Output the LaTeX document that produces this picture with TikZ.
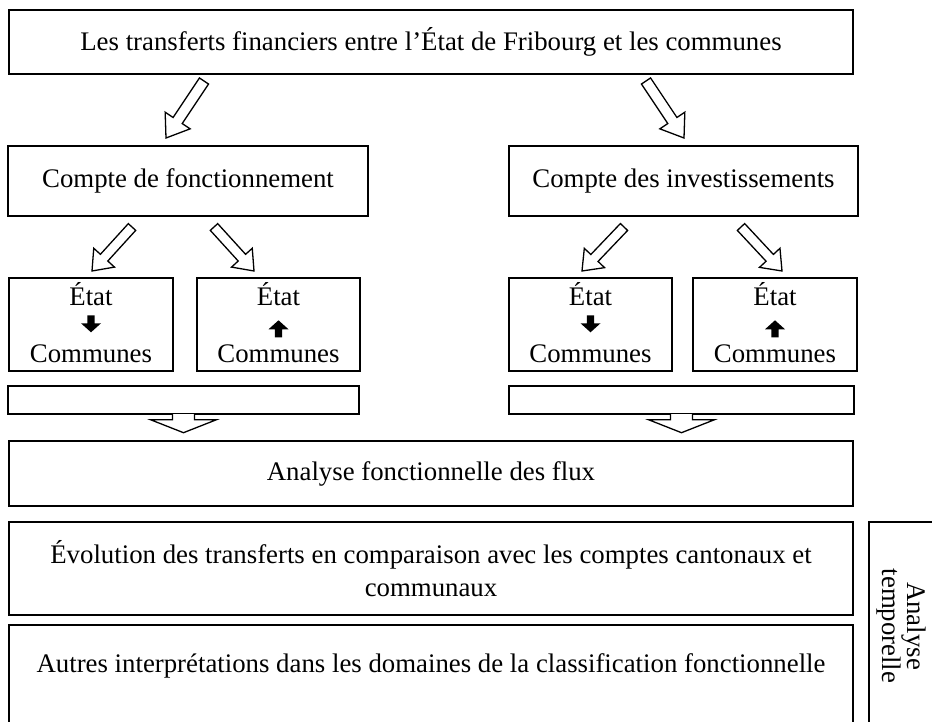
\documentclass[tikz,border=0pt]{standalone}
\usepackage{fontspec}
\setmainfont{Liberation Serif}
\usetikzlibrary{calc}
\tikzset{
  box/.style={draw, line width=1.4pt, inner sep=0pt, align=center, font=\fontsize{26.8}{32.5}\selectfont},
  lbl/.style={inner sep=0pt, font=\fontsize{26.8}{32.5}\selectfont},
  hollow/.style={draw, fill=white, line width=1.3pt, line join=miter},
  solid/.style={fill=black, draw=none}
}
\newcommand\hollowarrow[5]{%
  \coordinate (ha-b) at ($(#2)!#5!(#1)$);
  \filldraw[hollow] ($(#1)!#3!90:(#2)$) -- ($(ha-b)!#3!90:(#2)$) -- ($(ha-b)!#4!90:(#2)$) -- (#2)
    -- ($(ha-b)!#4!-90:(#2)$) -- ($(ha-b)!#3!-90:(#2)$) -- ($(#1)!#3!-90:(#2)$) -- cycle;}
\newcommand\openarrow[5]{%
  \coordinate (ha-b) at ($(#2)!#5!(#1)$);
  \fill[white] ($(#1)!#3!90:(#2)$) -- ($(ha-b)!#3!90:(#2)$) -- ($(ha-b)!#4!90:(#2)$) -- (#2)
    -- ($(ha-b)!#4!-90:(#2)$) -- ($(ha-b)!#3!-90:(#2)$) -- ($(#1)!#3!-90:(#2)$) -- cycle;
  \draw[line width=1.3pt, line join=miter] ($(#1)!#3!90:(#2)$) -- ($(ha-b)!#3!90:(#2)$) -- ($(ha-b)!#4!90:(#2)$) -- (#2)
    -- ($(ha-b)!#4!-90:(#2)$) -- ($(ha-b)!#3!-90:(#2)$) -- ($(#1)!#3!-90:(#2)$);}
\newcommand\solidarrow[2]{%
  \coordinate (sa-b) at ($(#2)!9pt!(#1)$);
  \fill[solid] ($(#1)!3.6pt!90:(#2)$) -- ($(sa-b)!3.6pt!90:(#2)$) -- ($(sa-b)!10pt!90:(#2)$) -- (#2)
    -- ($(sa-b)!10pt!-90:(#2)$) -- ($(sa-b)!3.6pt!-90:(#2)$) -- ($(#1)!3.6pt!-90:(#2)$) -- cycle;}
\begin{document}
\begin{tikzpicture}[x=1pt,y=-1pt]
\useasboundingbox (0,0) rectangle (932,722);
\clip (0,0) rectangle (932,722);
% boxes
\node[box, minimum width=844pt, minimum height=64pt] (top) at (431,42) {Les transferts financiers entre l’État de Fribourg et les communes};
\node[box, minimum width=360pt, minimum height=70pt] (cf) at (188,181) {Compte de fonctionnement};
\node[box, minimum width=349pt, minimum height=70pt] (ci) at (683.5,181) {Compte des investissements};
\node[box, minimum width=164pt, minimum height=93pt] (s1) at (91,324.5) {};
\node[box, minimum width=163pt, minimum height=93pt] (s2) at (278.5,324.5) {};
\node[box, minimum width=163pt, minimum height=93pt] (s3) at (590.5,324.5) {};
\node[box, minimum width=164pt, minimum height=93pt] (s4) at (775,324.5) {};
\node[box, minimum width=351pt, minimum height=28pt] (b1) at (183.5,400) {};
\node[box, minimum width=345pt, minimum height=28pt] (b2) at (681.5,400) {};
\node[box, minimum width=844pt, minimum height=65pt] (ana) at (431,473.5) {Analyse fonctionnelle des flux};
\node[box, minimum width=844pt, minimum height=93pt] (evo) at (431,568.5) {Évolution des transferts en comparaison avec les comptes cantonaux et\\communaux};
\node[box, minimum width=844pt, minimum height=110pt] (aut) at (431,680) {};
\node[lbl] (autt) at (431,666) {Autres interprétations dans les domaines de la classification fonctionnelle};
\node[box, minimum width=76pt, minimum height=210pt] (tmp) at (907,627) {};
\node[lbl, rotate=-90, align=center, font=\fontsize{26.8}{25}\selectfont] (tmpt) at (901,626) {Analyse\\temporelle};
% small box texts
\foreach \b in {s1,s2,s3,s4}{
  \node[lbl, anchor=base] (\b e) at ($(\b.north)+(0,28)$) {État};
  \node[lbl, anchor=base] (\b c) at ($(\b.north)+(0,85)$) {Communes};
}
% bold arrows
\coordinate (d1a) at ($(s1.north)+(0,38)$); \coordinate (d1b) at ($(s1.north)+(0,55)$);
\coordinate (d3a) at ($(s3.north)+(0,38)$); \coordinate (d3b) at ($(s3.north)+(0,55)$);
\coordinate (u2a) at ($(s2.north)+(0,60)$); \coordinate (u2b) at ($(s2.north)+(0,43)$);
\coordinate (u4a) at ($(s4.north)+(0,60)$); \coordinate (u4b) at ($(s4.north)+(0,43)$);
\solidarrow{d1a}{d1b}
\solidarrow{d3a}{d3b}
\solidarrow{u2a}{u2b}
\solidarrow{u4a}{u4b}
% hollow diagonal arrows
\coordinate (t1) at (204,81); \coordinate (h1) at (166,138);
\coordinate (t2) at (646,81); \coordinate (h2) at (684,138);
\coordinate (t3) at (132,227); \coordinate (h3) at (92,271);
\coordinate (t4) at (214,227); \coordinate (h4) at (254,271);
\coordinate (t5) at (624,227); \coordinate (h5) at (582,271);
\coordinate (t6) at (741,227); \coordinate (h6) at (782,271);
\hollowarrow{t1}{h1}{5.5pt}{15pt}{21pt}
\hollowarrow{t2}{h2}{5.5pt}{15pt}{21pt}
\hollowarrow{t3}{h3}{5pt}{14pt}{18pt}
\hollowarrow{t4}{h4}{5pt}{14pt}{18pt}
\hollowarrow{t5}{h5}{5pt}{14pt}{18pt}
\hollowarrow{t6}{h6}{5pt}{14pt}{18pt}
% down arrows from bars
\coordinate (bt1) at ($(b1.south)+(0,-0.7)$); \coordinate (bh1) at ($(b1.south)+(0,18)$);
\coordinate (bt2) at ($(b2.south)+(0,-0.7)$); \coordinate (bh2) at ($(b2.south)+(0,18)$);
\openarrow{bt1}{bh1}{11pt}{33pt}{13pt}
\openarrow{bt2}{bh2}{11pt}{33pt}{13pt}
\end{tikzpicture}
\end{document}
